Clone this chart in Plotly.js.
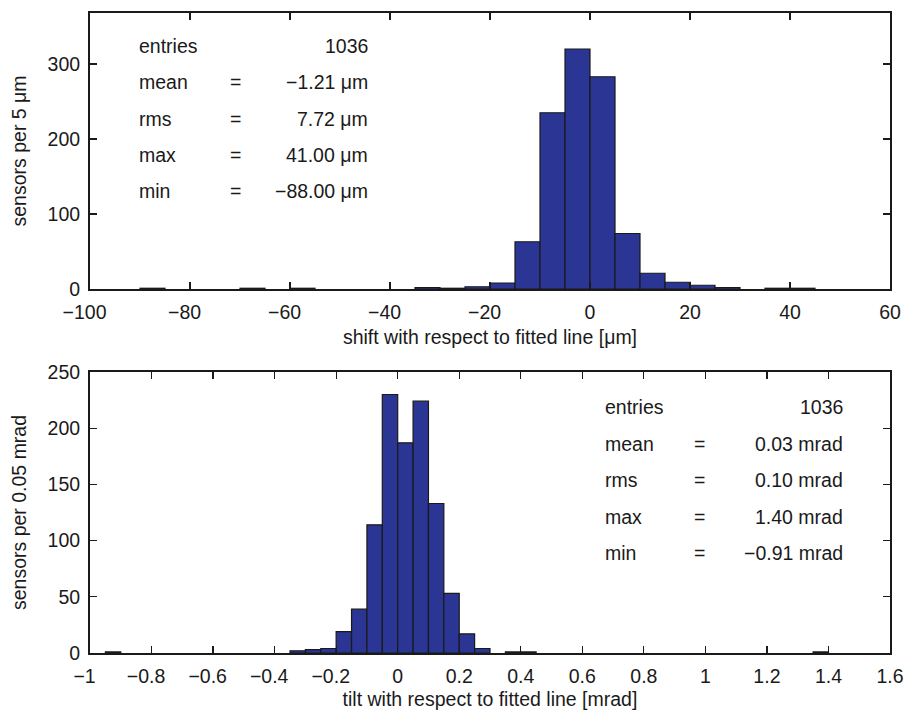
<!DOCTYPE html>
<html>
<head>
<meta charset="utf-8">
<script src="https://cdn.plot.ly/plotly-3.0.1.min.js"></script>
<style>html,body{margin:0;padding:0;background:#fff;}#chart{width:904px;height:712px;}</style>
</head>
<body>
<div id="chart"></div>
<script>
// ---- Data: top histogram (shift, bin width 5 µm) ----
const shiftBinLeft = [-90, -70, -60, -35, -30, -25, -20, -15, -10, -5, 0, 5, 10, 15, 20, 25, 35, 40];
const shiftCounts  = [1, 1, 1, 2, 1, 3, 8, 63, 235, 320, 283, 74, 21, 9, 5, 2, 1, 1];
const shiftBinWidth = 5;
const shiftXTicks = [-100, -80, -60, -40, -20, 0, 20, 40, 60];
const shiftYTicks = [0, 100, 200, 300];

// ---- Data: bottom histogram (tilt, bin width 0.05 mrad) ----
const tiltBinLeft = [-0.95, -0.35, -0.30, -0.25, -0.20, -0.15, -0.10, -0.05, 0, 0.05, 0.10, 0.15, 0.20, 0.25, 0.35, 0.40, 1.35];
const tiltCounts  = [1, 2, 3, 4, 19, 39, 114, 230, 187, 224, 133, 53, 17, 4, 1, 1, 1];
const tiltBinWidth = 0.05;
const tiltXTicks = [-1, -0.8, -0.6, -0.4, -0.2, 0, 0.2, 0.4, 0.6, 0.8, 1, 1.2, 1.4, 1.6];
const tiltYTicks = [0, 50, 100, 150, 200, 250];

// ---- Statistics boxes ----
const statNames = ["entries", "mean", "rms", "max", "min"];
const statEq = ["", "=", "=", "=", "="];
const shiftStats = ["1036", "\u22121.21 \u03bcm", "7.72 \u03bcm", "41.00 \u03bcm", "\u221288.00 \u03bcm"];
const tiltStats = ["1036", "0.03 mrad", "0.10 mrad", "1.40 mrad", "\u22120.91 mrad"];

const W = 904, H = 712;
const FONT = "Liberation Sans, Arial, Helvetica, sans-serif";
const INK = "#1a1a1a";
const BAR = "#2b3593";
const FS = 19.5;

// tick label text: minus sign hangs to the left of the centred digits
const tickText = vals => vals.map(v => v < 0 ? "\u2212" + String(Math.abs(v)) + "\u2007" : String(v));

const traces = [
  {
    type: "bar",
    x: shiftBinLeft.map(e => e + shiftBinWidth / 2),
    y: shiftCounts,
    width: shiftBinWidth,
    xaxis: "x", yaxis: "y",
    marker: {color: BAR, line: {color: INK, width: 1.2}},
    hoverinfo: "x+y", showlegend: false
  },
  {
    type: "bar",
    x: tiltBinLeft.map(e => e + tiltBinWidth / 2),
    y: tiltCounts,
    width: tiltBinWidth,
    xaxis: "x2", yaxis: "y2",
    marker: {color: BAR, line: {color: INK, width: 1.2}},
    hoverinfo: "x+y", showlegend: false
  }
];

function axisBase() {
  return {
    showline: true, linecolor: INK, linewidth: 2, mirror: "ticks",
    ticks: "inside", ticklen: 7, tickwidth: 1.2, tickcolor: INK,
    showgrid: false, zeroline: false, fixedrange: true,
    tickfont: {family: FONT, size: FS, color: INK},
    tickmode: "array"
  };
}

const px = v => v / W;
const py = v => 1 - v / H;

const layout = {
  width: W, height: H,
  margin: {l: 0, r: 0, t: 0, b: 0},
  paper_bgcolor: "#fff", plot_bgcolor: "#fff",
  font: {family: FONT, size: FS, color: INK},
  bargap: 0,
  showlegend: false,
  xaxis: Object.assign(axisBase(), {
    domain: [px(90), px(890)], anchor: "y",
    range: [-100, 60], tickvals: shiftXTicks, ticktext: tickText(shiftXTicks), ticklabelstandoff: 5,
    title: {text: "shift with respect to fitted line [\u03bcm]", font: {family: FONT, size: FS, color: INK}, standoff: 8}
  }),
  yaxis: Object.assign(axisBase(), {
    domain: [py(289), py(13)], anchor: "x",
    range: [0, 368], tickvals: shiftYTicks, ticklabelstandoff: 4,
    title: {text: "sensors per 5 \u03bcm", font: {family: FONT, size: FS, color: INK}, standoff: 16}
  }),
  xaxis2: Object.assign(axisBase(), {
    domain: [px(90), px(890)], anchor: "y2",
    range: [-1, 1.6], tickvals: tiltXTicks, ticktext: tickText(tiltXTicks), ticklabelstandoff: 5,
    title: {text: "tilt with respect to fitted line [mrad]", font: {family: FONT, size: FS, color: INK}, standoff: 6}
  }),
  yaxis2: Object.assign(axisBase(), {
    domain: [py(653), py(372)], anchor: "x2",
    range: [0, 250], tickvals: tiltYTicks, ticklabelstandoff: 4,
    title: {text: "sensors per 0.05 mrad", font: {family: FONT, size: FS, color: INK}, standoff: 16}
  }),
  annotations: []
};

function addStats(values, xName, xEq, xVal, yTop, dy) {
  statNames.forEach((n, i) => {
    const y = py(yTop + i * dy);
    const common = {xref: "paper", yref: "paper", y: y, yanchor: "middle", showarrow: false,
                    font: {family: FONT, size: FS, color: INK}};
    layout.annotations.push(Object.assign({}, common, {x: px(xName), xanchor: "left", text: n}));
    if (statEq[i]) layout.annotations.push(Object.assign({}, common, {x: px(xEq), xanchor: "center", text: statEq[i]}));
    layout.annotations.push(Object.assign({}, common, {x: px(xVal), xanchor: "right", text: values[i]}));
  });
}
addStats(shiftStats, 137, 235, 370, 46, 36.3);
addStats(tiltStats, 603, 699, 845, 407, 36.5);

Plotly.newPlot("chart", traces, layout, {staticPlot: true, displayModeBar: false});
</script>
</body>
</html>
